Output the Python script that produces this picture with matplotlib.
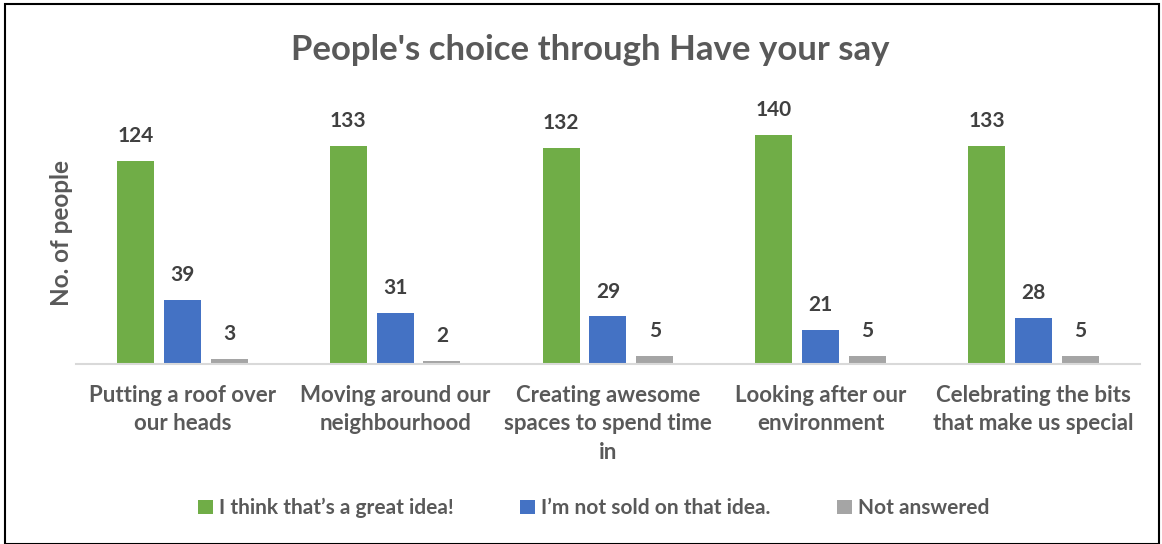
import numpy as np
import matplotlib
matplotlib.use("Agg")
import matplotlib.pyplot as plt
from matplotlib.patches import Rectangle

# Survey results per theme
themes = [
    "Putting a roof over\nour heads",
    "Moving around our\nneighbourhood",
    "Creating awesome\nspaces to spend time\nin",
    "Looking after our\nenvironment",
    "Celebrating the bits\nthat make us special",
]
great_idea = [124, 133, 132, 140, 133]
not_sold = [39, 31, 29, 21, 28]
not_answered = [3, 2, 5, 5, 5]
series_names = ["I think that\u2019s a great idea!", "I\u2019m not sold on that idea.", "Not answered"]
colors = ["#70AD47", "#4472C4", "#A5A5A5"]

plt.rcParams["font.family"] = ["Lato", "DejaVu Sans"]
plt.rcParams["font.weight"] = "bold"

fig = plt.figure(figsize=(11.62, 5.44), dpi=100)
ax = fig.add_axes([0.0654, 0.331, 0.9156, 0.4815])

x = np.arange(len(themes))
width = 0.174
step = 0.22
for i, (vals, name, col) in enumerate(zip([great_idea, not_sold, not_answered], series_names, colors)):
    pos = x + (i - 1) * step
    bars = ax.bar(pos, vals, width, color=col, label=name)
    for b, v in zip(bars, vals):
        ax.text(b.get_x() + b.get_width() / 2, v + 9, str(v), ha="center", va="bottom",
                fontsize=15, fontweight="bold", color="#404040")

ax.set_xlim(-0.5, 4.5)
ax.set_ylim(0, 160)
ax.set_yticks([])
ax.set_xticks(x)
ax.set_xticklabels(themes, fontsize=16, color="#595959", fontweight="bold", linespacing=1.45)
ax.tick_params(axis="x", length=0, pad=15)
for side in ["top", "right", "left"]:
    ax.spines[side].set_visible(False)
ax.spines["bottom"].set_color("#D9D9D9")
ax.spines["bottom"].set_linewidth(1.5)

ax.set_ylabel("No. of people", fontsize=17.5, color="#595959", fontweight="bold", labelpad=2)

fig.text(0.508, 0.908, "People's choice through Have your say", ha="center", va="center",
         fontsize=25, fontweight="bold", color="#595959")

fig.legend(loc="center", bbox_to_anchor=(0.511, 0.066), ncol=3, frameon=False,
           fontsize=15, labelcolor="#595959", handlelength=0.7, handleheight=0.7,
           handletextpad=0.3, columnspacing=3.2)

# chart frame
fig.add_artist(Rectangle((0.004, 0.0), 0.993, 0.993, transform=fig.transFigure,
                         fill=False, edgecolor="black", linewidth=1.5))

fig.savefig("out.png", dpi=100)
